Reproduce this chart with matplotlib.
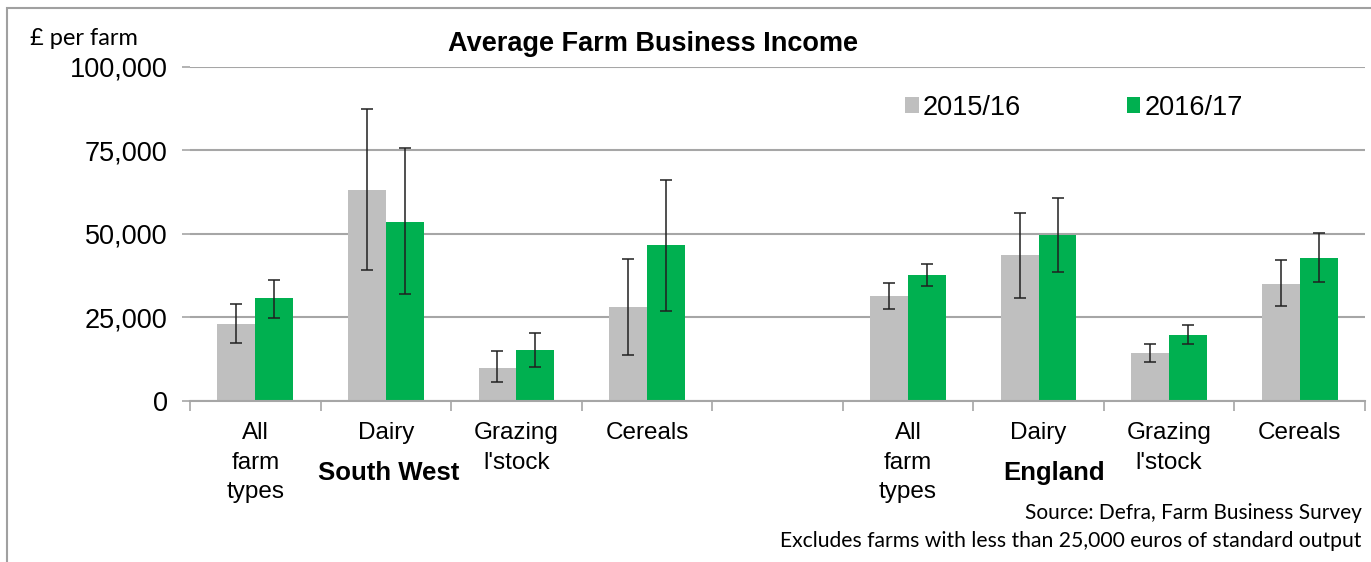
import numpy as np
import matplotlib
matplotlib.use('Agg')
import matplotlib.pyplot as plt
from matplotlib.patches import Rectangle
from matplotlib.ticker import FuncFormatter, FixedLocator

# data
categories = ["All\nfarm\ntypes", "Dairy", "Grazing\nl'stock", "Cereals", "",
              "All\nfarm\ntypes", "Dairy", "Grazing\nl'stock", "Cereals"]
regions = ["South West", "England"]
years = ["2015/16", "2016/17"]

income_1516 = [23000, 63100, 10000, 28100, np.nan, 31400, 43700, 14500, 35100]
income_1617 = [30700, 53600, 15300, 46600, np.nan, 37700, 49700, 19700, 42900]

# confidence interval ends
low_1516 = [17500, 39100, 5600, 13700, np.nan, 27600, 30900, 11800, 28400]
high_1516 = [29100, 87400, 15100, 42500, np.nan, 35200, 56400, 17000, 42100]
low_1617 = [24700, 32000, 10300, 26900, np.nan, 34300, 38700, 17000, 35500]
high_1617 = [36200, 75700, 20400, 66300, np.nan, 41000, 60900, 22900, 50200]

grey = '#BFBFBF'
green = '#00B050'
grid_col = '#A6A6A6'

fig = plt.figure(figsize=(13.71, 5.62), dpi=100)
ax = fig.add_axes([0.1386, 0.2865, 0.8570, 0.5943])

x = np.arange(len(categories))
w = 0.29

def errs(vals, lo, hi):
    vals = np.array(vals, dtype=float)
    return [vals - np.array(lo, dtype=float), np.array(hi, dtype=float) - vals]

ax.bar(x - w / 2, income_1516, w, color=grey, label=years[0], zorder=2)
ax.bar(x + w / 2, income_1617, w, color=green, label=years[1], zorder=2)
ax.errorbar(x - w / 2, income_1516, yerr=errs(income_1516, low_1516, high_1516),
            fmt='none', ecolor='#202020', elinewidth=1.1, capsize=4, capthick=1.1, zorder=3)
ax.errorbar(x + w / 2, income_1617, yerr=errs(income_1617, low_1617, high_1617),
            fmt='none', ecolor='#202020', elinewidth=1.1, capsize=4, capthick=1.1, zorder=3)

ax.set_xlim(-0.5, len(categories) - 0.5)
ax.set_ylim(0, 100000)
ax.set_yticks([0, 25000, 50000, 75000, 100000])
ax.yaxis.set_major_formatter(FuncFormatter(lambda v, p: f'{int(v):,}'))
ax.yaxis.grid(True, color=grid_col, linewidth=1.5, zorder=0)
ax.set_axisbelow(True)

ax.set_xticks(x)
ax.set_xticklabels(categories, fontsize=17.5, family='Liberation Sans',
                   linespacing=1.46, va='top')
ax.xaxis.set_minor_locator(FixedLocator(np.arange(-0.5, len(categories), 1.0)))
ax.tick_params(axis='x', which='major', length=0, pad=15)
ax.tick_params(axis='x', which='minor', length=7, width=1.2, color=grid_col)
ax.tick_params(axis='y', length=6, width=1.2, color=grid_col, pad=10,
               labelsize=19.5)
for lab in ax.get_yticklabels():
    lab.set_family('Liberation Sans')

for s in ['top', 'right', 'left']:
    ax.spines[s].set_visible(False)
ax.spines['bottom'].set_color(grid_col)
ax.spines['bottom'].set_linewidth(1.5)

# region group labels
trans = ax.get_xaxis_transform()
ax.text(1.02, -0.216, regions[0], transform=trans, ha='center', va='center',
        fontsize=18.5, fontweight='bold', family='Liberation Sans')
ax.text(6.12, -0.216, regions[1], transform=trans, ha='center', va='center',
        fontsize=18.5, fontweight='bold', family='Liberation Sans')

leg = ax.legend(loc='upper left', bbox_to_anchor=(0.588, 0.99), ncol=2, frameon=False,
                prop={'family': 'Liberation Sans', 'size': 19.5}, handlelength=0.5,
                handleheight=0.5, handletextpad=0.15, columnspacing=3.9)

fig.text(0.476, 0.921, 'Average Farm Business Income', ha='center', va='center',
         fontsize=19.5, fontweight='bold', family='Liberation Sans')
fig.text(0.022, 0.932, '£ per farm', ha='left', va='center', fontsize=17,
         family='Lato')
fig.text(0.993, 0.088, 'Source: Defra, Farm Business Survey', ha='right',
         va='center', fontsize=15, family='Lato')
fig.text(0.993, 0.038, 'Excludes farms with less than 25,000 euros of standard output',
         ha='right', va='center', fontsize=15.2, family='Lato')

# outer frame of the original chart
fig.patches.append(Rectangle((0.005, -0.05), 1.2, 1.036, transform=fig.transFigure,
                             fill=False, edgecolor='#A0A0A0', linewidth=1.5))

fig.savefig('out.png', dpi=100)
